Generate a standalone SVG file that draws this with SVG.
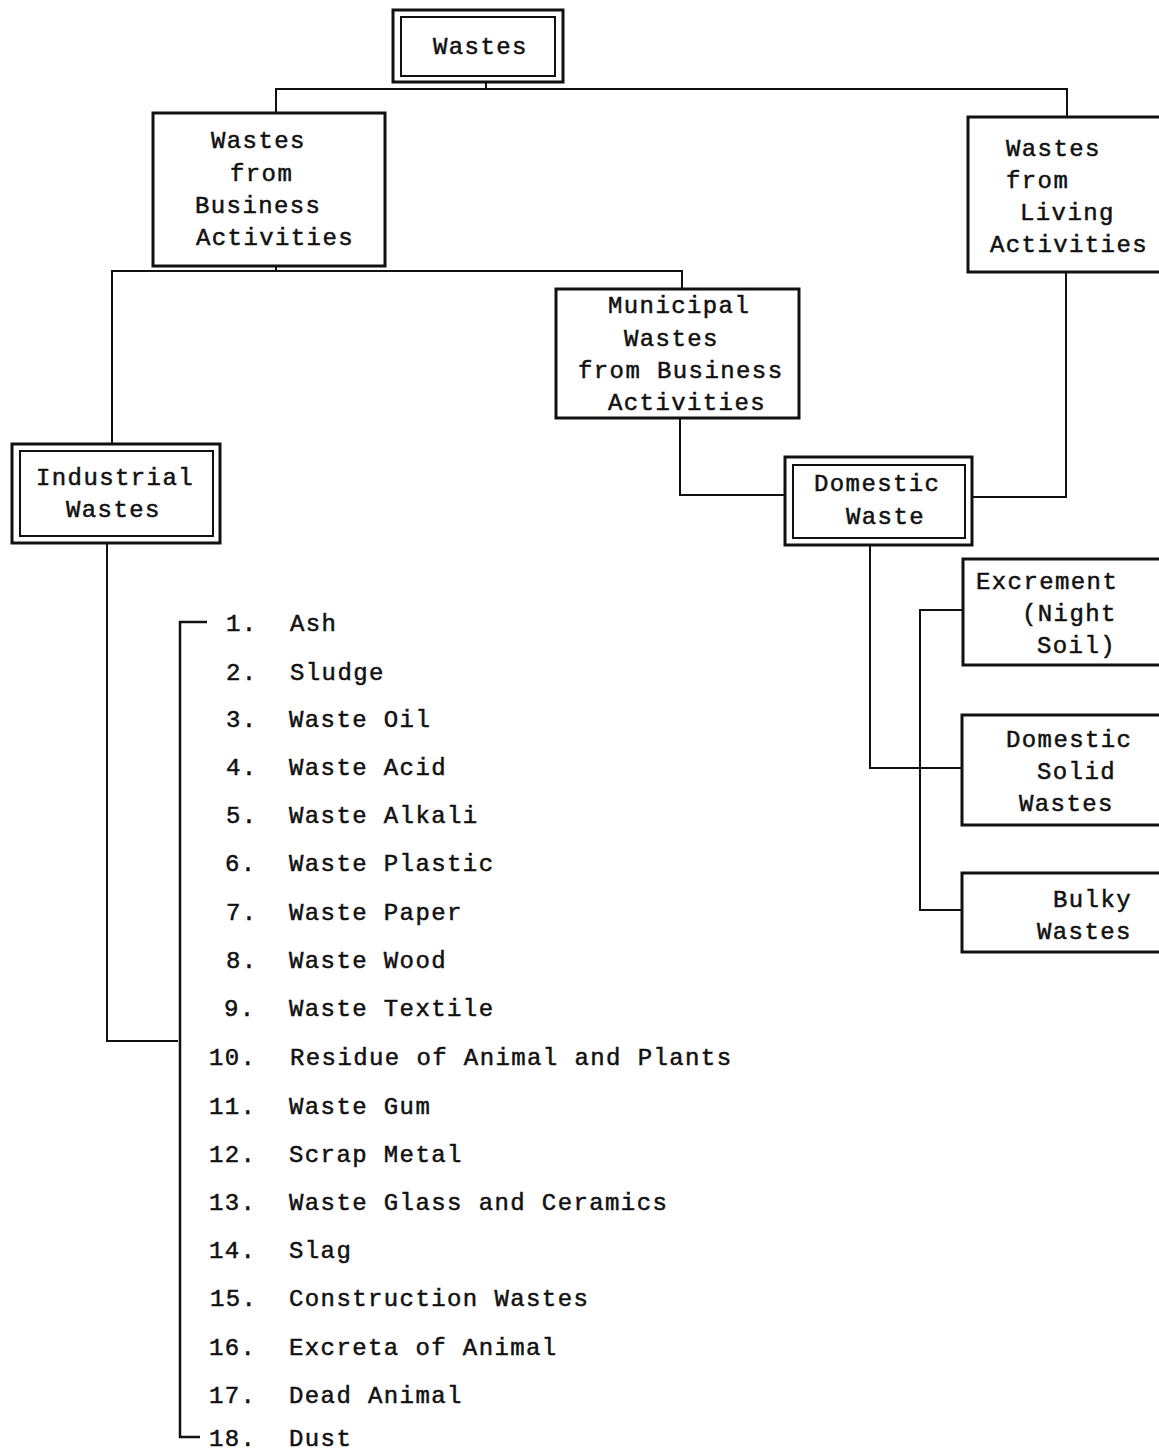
<svg xmlns="http://www.w3.org/2000/svg" width="1159" height="1455" viewBox="0 0 1159 1455">
<style>
text{font-family:"Liberation Mono","DejaVu Sans Mono",monospace;font-size:24px;letter-spacing:1.4px;fill:#111;stroke:#111;stroke-width:0.5}
.box{fill:#fff;stroke:#111;stroke-width:3}
.inner{fill:none;stroke:#111;stroke-width:2}
.conn{fill:none;stroke:#111;stroke-width:2}
.brk{fill:none;stroke:#111;stroke-width:2.5}
</style>
<rect width="1159" height="1455" fill="#fff"/>
<g id="connectors">
<polyline class="conn" points="486,82 486,89"/>
<polyline class="conn" points="276,113 276,89 1067,89 1067,117"/>
<polyline class="conn" points="276,266 276,271"/>
<polyline class="conn" points="112,444 112,271 682,271 682,289"/>
<polyline class="conn" points="680,418 680,495 785,495"/>
<polyline class="conn" points="972,497 1066,497 1066,272"/>
<polyline class="conn" points="870,545 870,768 962,768"/>
<polyline class="conn" points="963,610 920,610 920,910 962,910"/>
<polyline class="conn" points="107,543 107,1041 178,1041"/>
<polyline class="brk" points="207,622 180,622 180,1437 200,1437"/>
</g>
<g id="wastes">
<rect class="box" x="393" y="10" width="170" height="72"/>
<rect class="inner" x="401" y="17" width="154" height="59"/>
<text x="433" y="54">Wastes</text>
</g>
<g id="business">
<rect class="box" x="153" y="113" width="232" height="153"/>
<text x="211" y="148">Wastes</text>
<text x="230" y="181">from</text>
<text x="195" y="213">Business</text>
<text x="196" y="245">Activities</text>
</g>
<g id="living">
<rect class="box" x="968" y="117" width="200" height="155"/>
<text x="1006" y="156">Wastes</text>
<text x="1006" y="188">from</text>
<text x="1020" y="220">Living</text>
<text x="990" y="252">Activities</text>
</g>
<g id="municipal">
<rect class="box" x="556" y="289" width="243" height="129"/>
<text x="608" y="313">Municipal</text>
<text x="624" y="346">Wastes</text>
<text x="578" y="378">from Business</text>
<text x="608" y="410">Activities</text>
</g>
<g id="industrial">
<rect class="box" x="12" y="444" width="208" height="99"/>
<rect class="inner" x="20" y="451" width="193" height="85"/>
<text x="36" y="485">Industrial</text>
<text x="66" y="517">Wastes</text>
</g>
<g id="domestic">
<rect class="box" x="785" y="457" width="187" height="88"/>
<rect class="inner" x="793" y="465" width="172" height="73"/>
<text x="814" y="491">Domestic</text>
<text x="846" y="524">Waste</text>
</g>
<g id="excrement">
<rect class="box" x="963" y="559" width="210" height="106"/>
<text x="976" y="589">Excrement</text>
<text x="1022" y="621">(Night</text>
<text x="1037" y="653">Soil)</text>
</g>
<g id="domestic-solid">
<rect class="box" x="962" y="715" width="210" height="110"/>
<text x="1006" y="747">Domestic</text>
<text x="1037" y="779">Solid</text>
<text x="1019" y="811">Wastes</text>
</g>
<g id="bulky">
<rect class="box" x="962" y="873" width="210" height="79"/>
<text x="1053" y="907">Bulky</text>
<text x="1037" y="939">Wastes</text>
</g>
<g id="list">
<text x="226" y="631">1.</text><text x="290" y="631">Ash</text>
<text x="226" y="680">2.</text><text x="290" y="680">Sludge</text>
<text x="226" y="727">3.</text><text x="289" y="727">Waste Oil</text>
<text x="226" y="775">4.</text><text x="289" y="775">Waste Acid</text>
<text x="226" y="823">5.</text><text x="289" y="823">Waste Alkali</text>
<text x="225" y="871">6.</text><text x="289" y="871">Waste Plastic</text>
<text x="226" y="920">7.</text><text x="289" y="920">Waste Paper</text>
<text x="226" y="968">8.</text><text x="289" y="968">Waste Wood</text>
<text x="224" y="1016">9.</text><text x="289" y="1016">Waste Textile</text>
<text x="209" y="1065">10.</text><text x="290" y="1065">Residue of Animal and Plants</text>
<text x="209" y="1114">11.</text><text x="289" y="1114">Waste Gum</text>
<text x="209" y="1162">12.</text><text x="289" y="1162">Scrap Metal</text>
<text x="209" y="1210">13.</text><text x="289" y="1210">Waste Glass and Ceramics</text>
<text x="209" y="1258">14.</text><text x="289" y="1258">Slag</text>
<text x="210" y="1306">15.</text><text x="289" y="1306">Construction Wastes</text>
<text x="209" y="1355">16.</text><text x="289" y="1355">Excreta of Animal</text>
<text x="209" y="1403">17.</text><text x="289" y="1403">Dead Animal</text>
<text x="209" y="1446">18.</text><text x="289" y="1446">Dust</text>
</g>
</svg>
